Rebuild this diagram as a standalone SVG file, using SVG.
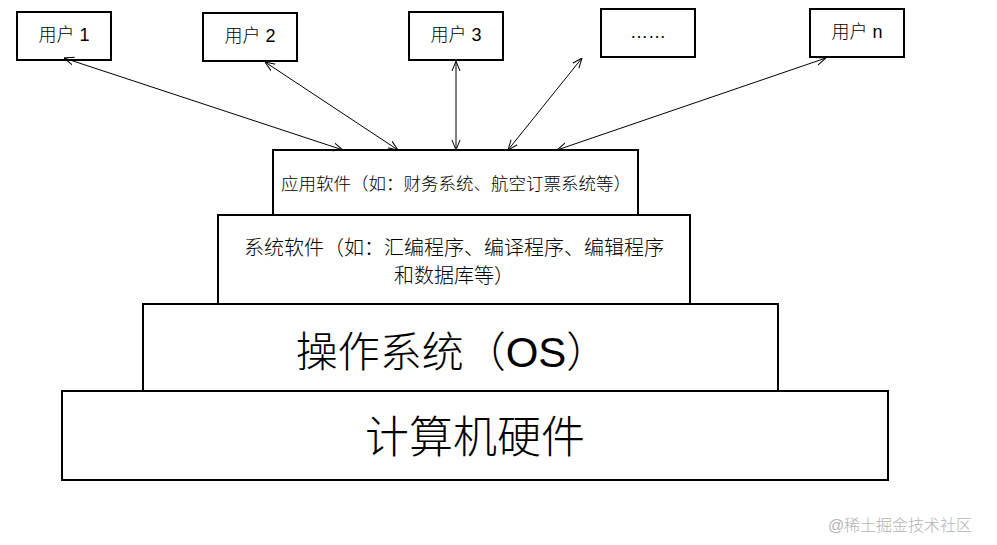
<svg xmlns="http://www.w3.org/2000/svg" width="997" height="545" viewBox="0 0 997 545">
<style>
.b{fill:#fff;stroke:#000;stroke-width:2}
text{font-family:"Liberation Sans","Noto Sans CJK SC",sans-serif;fill:#000;text-anchor:middle;font-weight:300}
.s{font-size:18px}
.l{stroke:#000;stroke-width:1;marker-start:url(#a);marker-end:url(#a)}
</style>
<defs><marker id="a" viewBox="0 0 10 10" refX="10" refY="5" markerWidth="10" markerHeight="10" orient="auto-start-reverse" markerUnits="userSpaceOnUse"><path d="M0,1 L10,5 L0,9" fill="none" stroke="#000"/></marker></defs>
<rect width="997" height="545" fill="#fff"/>
<g id="hw"><rect class="b" x="62" y="391" width="826" height="89"/><text x="475" y="453" font-size="44">计算机硬件</text></g>
<g id="os"><rect class="b" x="143" y="304" width="635" height="87"/><text x="452" y="367" font-size="42">操作系统（OS）</text></g>
<g id="sys"><rect class="b" x="218" y="215" width="472" height="89"/><text x="454" y="255" font-size="20">系统软件（如：汇编程序、编译程序、编辑程序</text><text x="454" y="283" font-size="20">和数据库等）</text></g>
<g id="app"><rect class="b" x="273" y="150" width="365" height="65"/><text x="456" y="190" font-size="17.5">应用软件（如：财务系统、航空订票系统等）</text></g>
<g id="u1"><rect class="b" x="17" y="12" width="94" height="48"/><text x="64" y="41" class="s">用户 1</text></g>
<g id="u2"><rect class="b" x="203" y="13" width="94" height="48"/><text x="250" y="42" class="s">用户 2</text></g>
<g id="u3"><rect class="b" x="409" y="12" width="94" height="48"/><text x="456" y="41" class="s">用户 3</text></g>
<g id="u4"><rect class="b" x="601" y="9" width="94" height="48"/><text x="648" y="38" class="s">……</text></g>
<g id="un"><rect class="b" x="810" y="9" width="94" height="48"/><text x="857" y="38" class="s">用户 n</text></g>
<g id="connectors">
<line class="l" x1="64" y1="58" x2="343" y2="150"/>
<line class="l" x1="265" y1="62" x2="398" y2="150"/>
<line class="l" x1="456" y1="61" x2="456" y2="150"/>
<line class="l" x1="582" y1="58" x2="508" y2="150"/>
<line class="l" x1="826" y1="58" x2="557" y2="150"/>
</g>
<text x="900" y="531" font-size="16" style="fill:#b4b4b4">@稀土掘金技术社区</text>
</svg>
